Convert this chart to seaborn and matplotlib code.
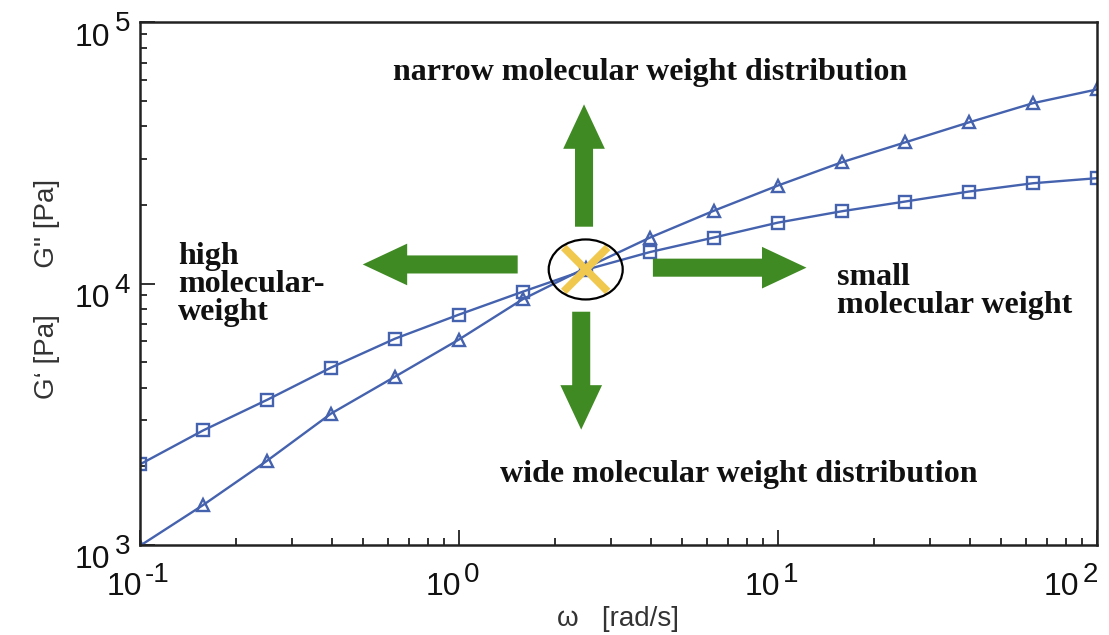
import numpy as np
import pandas as pd
import seaborn as sns
import matplotlib.pyplot as plt
from matplotlib.patches import Ellipse
from matplotlib.ticker import NullFormatter
from matplotlib.transforms import ScaledTranslation

# frequency sweep, 5 points per decade
omega = [0.1, 0.158, 0.251, 0.398, 0.631, 1.0, 1.585, 2.51, 3.98, 6.31,
         10.0, 15.85, 25.1, 39.8, 63.1, 100.0]
g_loss = [2030, 2740, 3590, 4770, 6150, 7600, 9300, 11300, 13200, 15000,
          17100, 18900, 20600, 22500, 24200, 25300]
g_storage = [990, 1420, 2100, 3180, 4400, 6100, 8700, 11500, 15000, 19000,
             23700, 29100, 34700, 41400, 49000, 55300]

x_decades = [-1, 0, 1, 2]
y_decades = [3, 4, 5]

annot_texts = ['narrow molecular weight distribution',
               'wide molecular weight distribution',
               'high\nmolecular-\nweight',
               'small\nmolecular weight']

blue = '#4562ae'
green = '#3f8a23'
yellow = '#f1c84e'

sns.set_style('ticks')
plt.rcParams['font.family'] = ['Liberation Sans', 'DejaVu Sans']

fig = plt.figure(figsize=(11.09, 6.35), dpi=100)
ax = fig.add_axes([0.126, 0.142, 0.863, 0.823])

df = pd.DataFrame({'omega': omega, 'loss': g_loss, 'storage': g_storage})
sns.lineplot(data=df, x='omega', y='loss', ax=ax, color=blue, lw=1.7,
             marker='s', markersize=8, markerfacecolor='none',
             markeredgecolor=blue, markeredgewidth=1.7)
sns.lineplot(data=df, x='omega', y='storage', ax=ax, color=blue, lw=1.7,
             marker='^', markersize=8, markerfacecolor='none',
             markeredgecolor=blue, markeredgewidth=1.7)

ax.set_xscale('log')
ax.set_yscale('log')
ax.set_xlim(0.1, 100)
ax.set_ylim(1e3, 1e5)

for side in ['left', 'bottom', 'top', 'right']:
    ax.spines[side].set_linewidth(1.8)
    ax.spines[side].set_color('#222222')
ax.tick_params(which='both', direction='in', top=False, right=False,
               width=1.3, color='#222222')
ax.tick_params(which='major', length=11)
ax.tick_params(which='minor', length=5)
for axis in [ax.xaxis, ax.yaxis]:
    axis.set_major_formatter(NullFormatter())
    axis.set_minor_formatter(NullFormatter())

# decade labels: "10" with a large raised exponent
tick_font = dict(fontsize=23, color='#111111', annotation_clip=False,
                 textcoords='offset points', va='baseline')
exp_font = dict(fontsize=20, color='#111111', annotation_clip=False,
                textcoords='offset points', va='baseline')
for e in x_decades:
    shift = -14 if e == x_decades[-1] else 0
    ax.annotate('10', xy=(10.0 ** e, 0), xycoords=('data', 'axes fraction'),
                xytext=(1.5 + shift, -36), ha='right', **tick_font)
    ax.annotate(str(e), xy=(10.0 ** e, 0), xycoords=('data', 'axes fraction'),
                xytext=(3.6 + shift, -26.5), ha='left', **exp_font)
for e in y_decades:
    ax.annotate('10', xy=(0, 10.0 ** e), xycoords=('axes fraction', 'data'),
                xytext=(-21.6, -17), ha='right', **tick_font)
    ax.annotate(str(e), xy=(0, 10.0 ** e), xycoords=('axes fraction', 'data'),
                xytext=(-18, -6.5), ha='left', **exp_font)

ax.set_xlabel('ω   [rad/s]', fontsize=20, color='#333333', va='center')
ax.xaxis.set_label_coords(0.5, -0.142)
ax.set_ylabel('G‘ [Pa]      G" [Pa]', fontsize=20, color='#333333', va='center')
ax.yaxis.set_label_coords(-0.097, 0.49)

# green arrows
def fat_arrow(tail, tip):
    ax.annotate('', xy=tip, xytext=tail,
                arrowprops=dict(arrowstyle='simple,head_width=30,head_length=32,tail_width=13',
                                mutation_scale=1, color=green, shrinkA=0, shrinkB=0, lw=0))

fat_arrow((2.47, 16500), (2.47, 48500))
fat_arrow((2.42, 7800), (2.42, 2760))
fat_arrow((1.53, 11830), (0.50, 11830))
fat_arrow((4.06, 11500), (12.3, 11500))

# crossover marker
centre = ScaledTranslation(2.50, 11320, ax.transData)
for sign in [1, -1]:
    ax.plot([-0.22, 0.22], [0.22 * sign, -0.22 * sign], color=yellow, lw=5.5,
            transform=fig.dpi_scale_trans + centre, solid_capstyle='butt', zorder=5)
ax.add_patch(Ellipse((0, 0), 0.74, 0.60, fill=False, ec='black', lw=1.6,
                     transform=fig.dpi_scale_trans + centre, zorder=6))

serif = dict(family='Liberation Serif', weight='bold', fontsize=23, color='#111111')
ax.text(0.533, 0.889, annot_texts[0], transform=ax.transAxes, ha='center', va='baseline', **serif)
ax.text(0.626, 0.120, annot_texts[1], transform=ax.transAxes, ha='center', va='baseline', **serif)
ax.text(0.04, 0.579, annot_texts[2], transform=ax.transAxes, ha='left', va='top',
        linespacing=0.95, **serif)
ax.text(0.729, 0.539, annot_texts[3], transform=ax.transAxes, ha='left', va='top',
        linespacing=0.95, **serif)

fig.savefig('out.png', dpi=100)
